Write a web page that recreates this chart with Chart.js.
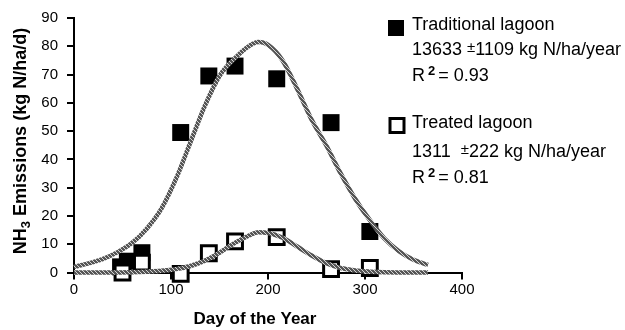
<!DOCTYPE html>
<html>
<head>
<meta charset="utf-8">
<script src="https://cdn.jsdelivr.net/npm/chart.js@4"></script>
<style>
  html, body { margin: 0; padding: 0; background: #fff; }
  #wrap { width: 625px; height: 330px; }
</style>
</head>
<body>
<div id="wrap"><canvas id="nh3-chart"></canvas></div>
<script>
// measured points
var tradDays = [48, 55, 70, 110, 139, 166, 209, 265, 305];
var tradValues = [2, 4, 7, 49.5, 69.5, 73, 68.5, 53, 14.5];
var treatDays = [50, 70, 110, 139, 166, 209, 265, 305];
var treatValues = [0, 3.5, -0.5, 6.8, 11, 12.5, 1.2, 1.6];

// fitted curves
var tradFitDays = [0, 15, 30, 45, 60, 75, 90, 105, 120, 135, 150, 165, 180, 190, 200, 215, 230, 245, 260, 275, 290, 305, 320, 335, 350, 365];
var tradFitValues = [2, 3.2, 4.8, 7.2, 10.5, 15.5, 22.5, 33, 46, 59, 69.5, 75.5, 80, 81.5, 80.5, 75, 65, 54, 45, 35, 26, 18.5, 12, 7.5, 4.5, 2.7];
var treatFitDays = [0, 30, 60, 75, 90, 105, 120, 135, 150, 165, 180, 190, 200, 215, 230, 245, 260, 275, 290, 305, 320, 365];
var treatFitValues = [0, 0, 0.1, 0.3, 0.6, 1.2, 2.3, 4.2, 7, 10.3, 13, 14.2, 14, 12.3, 9.2, 6, 3.3, 1.6, 0.7, 0.3, 0.1, 0];

var xTicks = [0, 100, 200, 300, 400];

function pts(xs, ys) {
    return xs.map(function (d, i) { return { x: d, y: ys[i] }; });
}

// grainy grey stroke like the printed fit lines
function hatch() {
    var c = document.createElement('canvas');
    c.width = 4; c.height = 4;
    var g = c.getContext('2d');
    g.fillStyle = '#555';
    g.fillRect(0, 0, 4, 4);
    g.fillStyle = '#d4d4d4';
    g.fillRect(0, 0, 1, 1);
    g.fillRect(1, 1, 1, 1);
    g.fillRect(2, 2, 1, 1);
    g.fillRect(3, 3, 1, 1);
    return g.createPattern(c, 'repeat');
}

var FONT = '"Liberation Sans", Arial, sans-serif';

var textPlugin = {
    id: 'figText',
    afterDraw: function (chart) {
        var ctx = chart.ctx;
        ctx.save();
        ctx.fillStyle = '#000';
        ctx.strokeStyle = '#000';
        ctx.textBaseline = 'alphabetic';
        ctx.textAlign = 'left';

        function r2(x, y, rest) {
            ctx.font = '18px ' + FONT;
            ctx.fillText('R', x, y);
            var w = ctx.measureText('R').width + 3;
            ctx.font = 'bold 13px ' + FONT;
            ctx.fillText('2', x + w, y - 6);
            w += ctx.measureText('2').width + 3;
            ctx.font = '18px ' + FONT;
            ctx.fillText(rest, x + w, y);
        }
        function pm(x, y, a, b) {
            ctx.font = '18px ' + FONT;
            ctx.fillText(a, x, y);
            var w = ctx.measureText(a).width;
            ctx.font = '15px ' + FONT;
            ctx.fillText('\u00b1', x + w, y - 3);
            w += ctx.measureText('\u00b1').width;
            ctx.font = '18px ' + FONT;
            ctx.fillText(b, x + w, y);
        }

        // legend block
        ctx.fillRect(388, 20, 16, 16);
        ctx.font = '18px ' + FONT;
        ctx.fillText('Traditional lagoon', 412, 30);
        pm(412, 55, '13633 ', '1109 kg N/ha/year');
        r2(412, 81, '= 0.93');

        ctx.lineWidth = 3;
        ctx.strokeRect(390, 118.5, 14, 14);
        ctx.font = '18px ' + FONT;
        ctx.fillText('Treated lagoon', 412, 128);
        pm(412, 157, '1311  ', '222 kg N/ha/year');
        r2(412, 183, '= 0.81');

        // x title
        ctx.font = 'bold 17px ' + FONT;
        ctx.textAlign = 'center';
        ctx.fillText('Day of the Year', 255, 324);

        // y title with subscript
        ctx.translate(26, 141);
        ctx.rotate(-Math.PI / 2);
        ctx.textAlign = 'left';
        var big = 'bold 18px ' + FONT, small = 'bold 13px ' + FONT;
        ctx.font = big;
        var w1 = ctx.measureText('NH').width;
        var w3 = ctx.measureText(' Emissions (kg N/ha/d)').width;
        ctx.font = small;
        var w2 = ctx.measureText('3').width;
        var x0 = -(w1 + w2 + w3) / 2;
        ctx.font = big;
        ctx.fillText('NH', x0, 0);
        ctx.font = small;
        ctx.fillText('3', x0 + w1, 4);
        ctx.font = big;
        ctx.fillText(' Emissions (kg N/ha/d)', x0 + w1 + w2, 0);
        ctx.restore();
    }
};

var pattern = hatch();
var ctx = document.getElementById('nh3-chart').getContext('2d');
var chart = new Chart(ctx, {
    type: 'scatter',
    data: {
        datasets: [{
            label: 'Traditional fit',
            data: pts(tradFitDays, tradFitValues),
            showLine: true,
            borderColor: pattern,
            borderWidth: 4.5,
            pointRadius: 0,
            cubicInterpolationMode: 'monotone',
            clip: false,
            order: 0
        }, {
            label: 'Treated fit',
            data: pts(treatFitDays, treatFitValues),
            showLine: true,
            borderColor: pattern,
            borderWidth: 4.5,
            pointRadius: 0,
            cubicInterpolationMode: 'monotone',
            clip: false,
            order: 0
        }, {
            label: 'Treated lagoon',
            data: pts(treatDays, treatValues),
            pointStyle: 'rect',
            pointRadius: 10.5,
            borderWidth: 3,
            borderColor: '#000',
            backgroundColor: '#fff',
            clip: false,
            order: 1
        }, {
            label: 'Traditional lagoon',
            data: pts(tradDays, tradValues),
            pointStyle: 'rect',
            pointRadius: 12,
            borderWidth: 0,
            backgroundColor: '#000',
            clip: false,
            order: 2
        }]
    },
    options: {
        responsive: true,
        maintainAspectRatio: false,
        animation: false,
        events: [],
        layout: {
            padding: { top: 16, right: 163, left: 0, bottom: 0 }
        },
        plugins: {
            legend: { display: false },
            tooltip: { enabled: false }
        },
        scales: {
            x: {
                type: 'linear',
                min: 0,
                max: 400,
                afterBuildTicks: function (s) {
                    s.ticks = xTicks.map(function (v) { return { value: v }; });
                },
                afterFit: function (s) { s.height = 57.5; },
                ticks: {
                    color: '#000',
                    padding: 1,
                    font: { size: 15, family: FONT }
                },
                grid: {
                    drawOnChartArea: false,
                    tickLength: 7,
                    color: '#000',
                    lineWidth: 2
                },
                border: { color: '#000', width: 2 }
            },
            y: {
                min: 0,
                max: 90,
                afterFit: function (s) { s.width = 74; },
                ticks: {
                    stepSize: 10,
                    color: '#000',
                    padding: 9,
                    font: { size: 15, family: FONT }
                },
                grid: {
                    drawOnChartArea: false,
                    tickLength: 7,
                    color: '#000',
                    lineWidth: 2
                },
                border: { color: '#000', width: 2 }
            }
        }
    },
    plugins: [textPlugin]
});
</script>
</body>
</html>
